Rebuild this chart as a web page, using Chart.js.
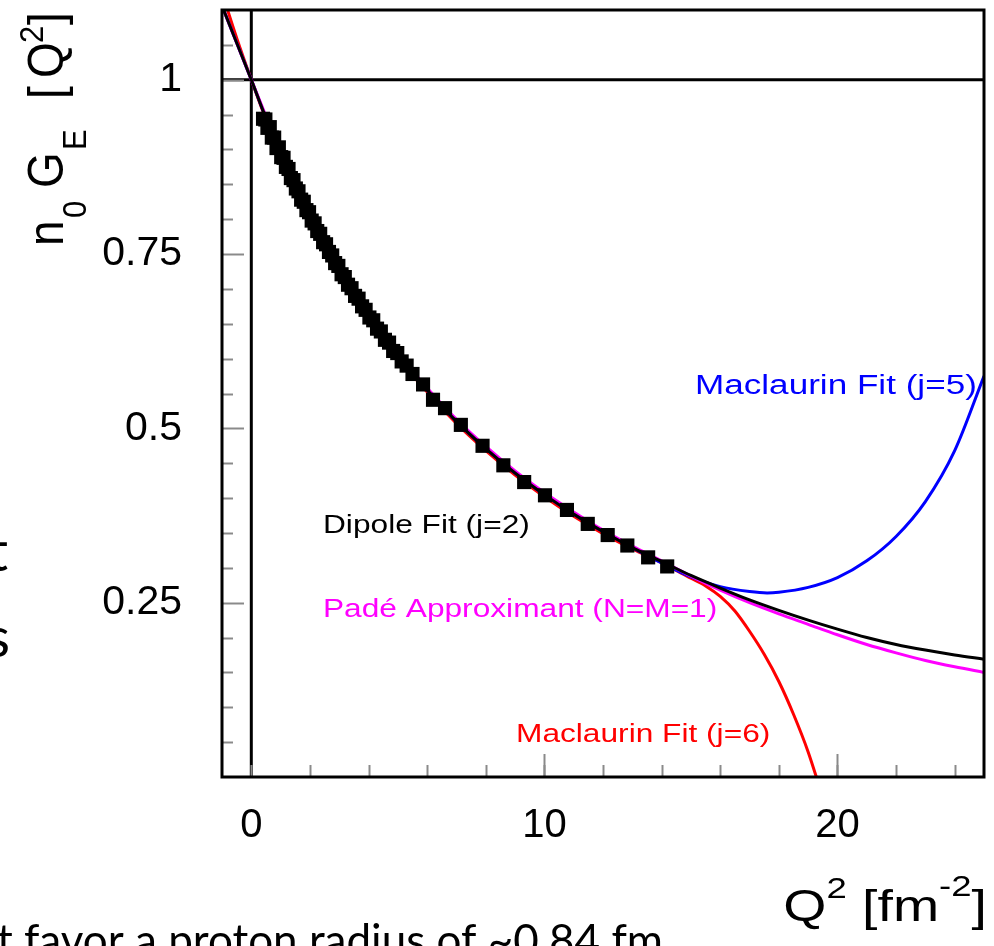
<!DOCTYPE html>
<html>
<head>
<meta charset="utf-8">
<script src="https://cdn.jsdelivr.net/npm/chart.js@4.4.1/dist/chart.umd.min.js"></script>
<style>
  html, body { margin: 0; padding: 0; background: #fff; }
  #wrap { width: 994px; height: 946px; position: relative; }
</style>
</head>
<body>
<div id="wrap"><canvas id="myChart" width="994" height="946"></canvas></div>
<script>
// Data (Q^2 in fm^-2, n0 G_E)
const dataQ2 = [0.40, 0.48, 0.55, 0.63, 0.70, 0.78, 0.86, 0.94, 1.02, 1.10, 1.18, 1.27, 1.35, 1.44, 1.52,
    1.61, 1.70, 1.79, 1.88, 1.97, 2.06, 2.16, 2.25, 2.35, 2.45, 2.55, 2.65, 2.76, 2.86, 2.97, 3.08, 3.19,
    3.30, 3.42, 3.54, 3.66, 3.78, 3.90, 4.03, 4.16, 4.29, 4.42, 4.56, 4.70, 4.84, 4.98, 5.13, 5.30, 5.50,
    5.86, 6.20, 6.61, 7.15, 7.89, 8.60, 9.31, 10.02, 10.77, 11.48, 12.16, 12.83, 13.54, 14.19];
const dataGE = [0.944, 0.943, 0.931, 0.932, 0.917, 0.917, 0.902, 0.903, 0.889, 0.888, 0.875, 0.872, 0.859, 0.856, 0.844,
    0.840, 0.828, 0.825, 0.813, 0.810, 0.798, 0.794, 0.783, 0.779, 0.767, 0.764, 0.753, 0.748, 0.737, 0.733, 0.721, 0.717,
    0.706, 0.701, 0.690, 0.686, 0.675, 0.670, 0.659, 0.655, 0.643, 0.639, 0.627, 0.623, 0.611, 0.608, 0.596, 0.590, 0.578,
    0.563, 0.541, 0.529, 0.505, 0.475, 0.447, 0.423, 0.404, 0.383, 0.363, 0.347, 0.332, 0.315, 0.302];

const fitQ2 = [-1, -0.5, 0, 0.5, 1, 1.5, 2, 3, 4, 5, 6, 7, 8, 9, 10, 11, 12, 13, 14, 15, 16, 17, 18, 19, 20, 21, 22, 23, 24, 25];
const dipoleFit = [1.106, 1.053, 1.000, 0.945, 0.895, 0.848, 0.805, 0.729, 0.663, 0.605, 0.555, 0.510, 0.471, 0.436, 0.405,
    0.377, 0.352, 0.329, 0.309, 0.289, 0.271, 0.254, 0.239, 0.225, 0.212, 0.200, 0.190, 0.182, 0.175, 0.169];
const padeFit = [1.106, 1.053, 1.000, 0.948, 0.898, 0.851, 0.808, 0.732, 0.666, 0.608, 0.558, 0.513, 0.474, 0.439, 0.408,
    0.380, 0.354, 0.331, 0.310, 0.288, 0.268, 0.250, 0.234, 0.219, 0.204, 0.190, 0.178, 0.167, 0.158, 0.150];

const maclaurin5Q2 = [-1, -0.5, 0, 0.5, 1, 1.5, 2, 3, 4, 5, 6, 7, 8, 9, 10, 11, 12, 13, 14, 15, 16, 17, 17.6, 18, 19, 20, 21, 22, 23, 24, 25];
const maclaurin5Fit = [1.106, 1.053, 1.000, 0.945, 0.895, 0.848, 0.805, 0.729, 0.663, 0.605, 0.555, 0.510, 0.471, 0.436, 0.405,
    0.377, 0.352, 0.329, 0.307, 0.287, 0.273, 0.266, 0.264, 0.265, 0.272, 0.286, 0.310, 0.345, 0.395, 0.468, 0.575];

const maclaurin6Q2 = [-1, -0.5, 0, 0.5, 1, 1.5, 2, 3, 4, 5, 6, 7, 8, 9, 10, 11, 12, 13, 14, 15, 15.5, 16, 16.5, 17, 17.5, 18, 18.5, 19, 19.5, 20];
const maclaurin6Fit = [1.125, 1.060, 1.000, 0.943, 0.892, 0.845, 0.802, 0.726, 0.660, 0.602, 0.552, 0.507, 0.468, 0.433, 0.402,
    0.374, 0.349, 0.327, 0.307, 0.285, 0.274, 0.259, 0.238, 0.209, 0.176, 0.137, 0.090, 0.036, -0.030, -0.100];

const seriesNames = ['Dipole Fit (j=2)', 'Padé Approximant (N=M=1)', 'Maclaurin Fit (j=5)', 'Maclaurin Fit (j=6)'];
const xTickValues = [0, 10, 20];
const xTickLabels = ['0', '10', '20'];
const yTickValues = [0.25, 0.5, 0.75, 1];
const yTickLabels = ['0.25', '0.5', '0.75', '1'];
const refQ2 = 0;   // vertical guide line
const refGE = 1;   // horizontal guide line

const FONT = '"Liberation Sans", Arial, Helvetica, sans-serif';
const SLIDE_FONT = 'Lato, "Open Sans", sans-serif';

function toPoints(xs, ys) {
    return xs.map((x, i) => ({ x: x, y: ys[i] }));
}

function curve(label, xs, ys, color) {
    return {
        label: label,
        data: toPoints(xs, ys),
        showLine: true,
        borderColor: color,
        borderWidth: 3,
        pointRadius: 0,
        cubicInterpolationMode: 'monotone',
        fill: false
    };
}

// draws text pieces one after another, with optional sub/superscript shift
function drawPieces(ctx, pieces, x, y, opts) {
    ctx.save();
    ctx.translate(x, y);
    if (opts.rotate) ctx.rotate(opts.rotate);
    ctx.scale(opts.sx || 1, opts.sy || 1);
    ctx.fillStyle = opts.color || '#000';
    ctx.textBaseline = 'alphabetic';
    ctx.textAlign = 'left';
    let cx = 0;
    pieces.forEach(p => {
        ctx.font = p.size + 'px ' + (opts.font || FONT);
        if (p.at !== undefined) cx = p.at;
        ctx.fillText(p.text, cx, p.dy || 0);
        cx += ctx.measureText(p.text).width;
    });
    ctx.restore();
}

function piecesWidth(ctx, pieces, font) {
    let w = 0;
    pieces.forEach(p => {
        ctx.font = p.size + 'px ' + font;
        w += ctx.measureText(p.text).width;
    });
    return w;
}

const figureDecor = {
    id: 'figureDecor',
    afterDraw(chart) {
        const ctx = chart.ctx;
        const a = chart.chartArea;
        const xs = chart.scales.x, ys = chart.scales.y;
        ctx.save();

        // inward tick marks
        ctx.strokeStyle = '#8a8a8a';
        ctx.lineWidth = 2;
        for (let k = 1; k < 22; k++) {
            const py = Math.round(ys.getPixelForValue(k * 0.05)) + 0.5;
            const len = (k % 5 === 0) ? 22 : 11;
            ctx.beginPath();
            ctx.moveTo(a.left, py);
            ctx.lineTo(a.left + len, py);
            ctx.stroke();
        }
        for (let v = 0; v <= 25; v += 2) {
            const px = Math.round(xs.getPixelForValue(v)) + 0.5;
            ctx.beginPath();
            ctx.moveTo(px, a.bottom);
            ctx.lineTo(px, a.bottom - 12);
            ctx.stroke();
        }
        for (let v = 10; v <= 25; v += 10) {
            const px = Math.round(xs.getPixelForValue(v)) + 0.5;
            ctx.beginPath();
            ctx.moveTo(px, a.bottom);
            ctx.lineTo(px, a.bottom - 23);
            ctx.stroke();
        }

        // frame
        ctx.strokeStyle = '#000';
        ctx.lineWidth = 3;
        ctx.strokeRect(a.left, a.top, a.right - a.left, a.bottom - a.top);
        ctx.restore();

        // curve labels
        const lab = (text, x, y, color, size, sx) =>
            drawPieces(ctx, [{ text: text, size: size }], x, y, { color: color, sx: sx });
        lab(seriesNames[2], 695, 394, '#0000ff', 27, 1.3);
        lab(seriesNames[0], 323, 533, '#000000', 26.4, 1.2);
        lab(seriesNames[1], 323, 617, '#ff00ff', 26.4, 1.2);
        lab(seriesNames[3], 516, 742, '#ff0000', 26.4, 1.2);

        // y title: n0 GE [Q2], rotated
        drawPieces(ctx, [
            { text: 'n', size: 46, at: 2 },
            { text: '0', size: 31, dy: 21, at: 30 },
            { text: 'G', size: 46, at: 60 },
            { text: 'E', size: 31, dy: 21, at: 98 },
            { text: '[', size: 46, at: 149 },
            { text: 'Q', size: 46, at: 170 },
            { text: '2', size: 31, dy: -18, at: 205 },
            { text: ']', size: 46, at: 223 }
        ], 63, 248, { rotate: -Math.PI / 2, sy: 1.1 });

        // x title: Q2 [fm-2]
        const xt = [
            { text: 'Q', size: 44 },
            { text: '2', size: 29, dy: -23 },
            { text: ' [', size: 44 },
            { text: 'fm', size: 44 },
            { text: '-2', size: 29, dy: -25 },
            { text: ']', size: 44 }
        ];
        const sxT = 1.26;
        const w = piecesWidth(ctx, xt, FONT) * sxT;
        drawPieces(ctx, xt, 987 - w, 921, { sx: sxT });

        // bits of the surrounding slide text
        ctx.save();
        ctx.fillStyle = '#000';
        ctx.textAlign = 'right';
        ctx.textBaseline = 'alphabetic';
        ctx.font = '44px ' + SLIDE_FONT;
        ctx.fillText('t favor a proton radius of ~0.84 fm', 663, 956);
        ctx.font = '56px ' + SLIDE_FONT;
        ctx.fillText('t', 8, 571);
        ctx.fillText('s', 10, 657);
        ctx.restore();
    }
};

const ctx = document.getElementById('myChart').getContext('2d');
new Chart(ctx, {
    type: 'scatter',
    data: {
        datasets: [
            {
                label: 'data',
                data: toPoints(dataQ2, dataGE),
                pointStyle: 'rect',
                pointRadius: 10,
                backgroundColor: '#000',
                borderColor: '#000',
                borderWidth: 0,
                showLine: false
            },
            curve(seriesNames[0], fitQ2, dipoleFit, '#000000'),
            curve(seriesNames[1], fitQ2, padeFit, '#ff00ff'),
            curve(seriesNames[2], maclaurin5Q2, maclaurin5Fit, '#0000ff'),
            curve(seriesNames[3], maclaurin6Q2, maclaurin6Fit, '#ff0000'),
            {
                label: 'unity',
                data: [{ x: -1, y: refGE }, { x: 25, y: refGE }],
                showLine: true, borderColor: '#000', borderWidth: 3, pointRadius: 0
            },
            {
                label: 'zero',
                data: [{ x: refQ2, y: 0 }, { x: refQ2, y: 1.1 }],
                showLine: true, borderColor: '#000', borderWidth: 3, pointRadius: 0
            }
        ]
    },
    options: {
        responsive: false,
        animation: false,
        events: [],
        layout: { padding: { top: 9, right: 5, left: 0, bottom: 0 } },
        plugins: {
            legend: { display: false },
            tooltip: { enabled: false },
            title: { display: false }
        },
        scales: {
            x: {
                type: 'linear',
                min: -1,
                max: 25,
                afterBuildTicks: s => { s.ticks = xTickValues.map(v => ({ value: v })); },
                afterFit: s => { s.height = 169; },
                grid: { display: false, drawTicks: false },
                border: { display: false },
                ticks: {
                    autoSkip: false,
                    maxRotation: 0,
                    padding: 25,
                    color: '#000',
                    font: { family: FONT, size: 40 },
                    callback: (v, i) => xTickLabels[i]
                }
            },
            y: {
                type: 'linear',
                min: 0,
                max: 1.1,
                afterBuildTicks: s => { s.ticks = yTickValues.map(v => ({ value: v })); },
                afterFit: s => { s.width = 222; },
                // tick marks hidden; tickLength only sets the label offset
                grid: { display: false, drawTicks: true, tickLength: 40 },
                border: { display: false },
                ticks: {
                    autoSkip: false,
                    padding: 0,
                    color: '#000',
                    font: { family: FONT, size: 41, lineHeight: 0.3 },
                    callback: (v, i) => yTickLabels[i]
                }
            }
        }
    },
    plugins: [figureDecor]
});
</script>
</body>
</html>
